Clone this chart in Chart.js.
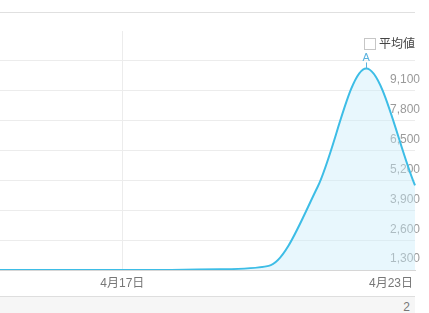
<!DOCTYPE html>
<html><head><meta charset="utf-8">
<script src="https://cdn.jsdelivr.net/npm/chart.js@4/dist/chart.umd.min.js"></script>
<style>
html,body{margin:0;padding:0;background:#fff;}
body{width:429px;height:313px;overflow:hidden;position:relative;font-family:"Liberation Sans","Noto Sans CJK JP",sans-serif;}
#top{position:absolute;left:0;top:12px;width:415px;height:1px;background:#e0e0e0;}
#legend{position:absolute;left:364px;top:35px;height:16px;}
#legend .box{position:absolute;left:0;top:3px;width:10px;height:10px;border:1px solid #c6c6c6;background:#fff;}
#legend .txt{position:absolute;left:15px;top:0;font-size:12px;line-height:16px;color:#444;white-space:nowrap;font-family:"Noto Sans CJK JP",sans-serif;}
#bot{position:absolute;left:0;top:296px;width:415px;height:17px;background:#f6f6f6;border-top:1px solid #dedede;}
#bot span{position:absolute;right:5px;top:3px;font-size:12px;color:#777;}
canvas{position:absolute;left:-24px;top:0;}
</style></head>
<body>
<div id="top"></div>
<canvas id="c" width="449" height="313"></canvas>
<div id="legend"><div class="box"></div><div class="txt">平均値</div></div>
<div id="bot"><span>2</span></div>
<script>
const categories = ['4月14日','4月15日','4月16日','4月17日','4月18日','4月19日','4月20日','4月21日','4月22日','4月23日'];
const sessions   = [0, 0, 0, 0, 5, 35, 180, 3600, 8770, 3680];
const yTickValues = [1300, 2600, 3900, 5200, 6500, 7800, 9100];
const shownXLabels = ['4月17日', '4月23日'];
const annotationLabel = 'A';
const annotationIndex = 8;

const xLabelPlugin = {
  id: 'xLabels',
  afterDraw(chart) {
    const ctx = chart.ctx, xs = chart.scales.x, area = chart.chartArea;
    ctx.save();
    ctx.font = '12px "Liberation Sans","Noto Sans CJK JP",sans-serif';
    ctx.fillStyle = '#777';
    ctx.textBaseline = 'middle';
    shownXLabels.forEach(lbl => {
      const i = categories.indexOf(lbl);
      const px = xs.getPixelForValue(i);
      const w = ctx.measureText(lbl).width;
      if (px + w / 2 > area.right) {
        ctx.textAlign = 'right';
        ctx.fillText(lbl, area.right - 2, area.bottom + 14);
      } else {
        ctx.textAlign = 'center';
        ctx.fillText(lbl, px, area.bottom + 14);
      }
    });
    // annotation
    const pt = chart.getDatasetMeta(0).data[annotationIndex];
    ctx.strokeStyle = '#5ab2de';
    ctx.lineWidth = 1;
    ctx.beginPath();
    ctx.moveTo(Math.round(pt.x) + 0.5, pt.y - 6);
    ctx.lineTo(Math.round(pt.x) + 0.5, pt.y);
    ctx.stroke();
    ctx.font = '11px "Liberation Sans",sans-serif';
    ctx.fillStyle = '#5ab2de';
    ctx.textAlign = 'center';
    ctx.textBaseline = 'bottom';
    ctx.fillText(annotationLabel, pt.x, pt.y - 5);
    ctx.restore();
  }
};

new Chart(document.getElementById('c'), {
  type: 'line',
  data: {
    labels: categories,
    datasets: [{
      data: sessions,
      borderColor: '#3dbde6',
      borderWidth: 2,
      backgroundColor: 'rgba(200,235,250,0.42)',
      fill: 'origin',
      pointRadius: 0,
      cubicInterpolationMode: 'monotone'
    }]
  },
  options: {
    responsive: false,
    animation: false,
    layout: { padding: { top: 31, bottom: 43, left: 0, right: 0 } },
    plugins: { legend: { display: false }, tooltip: { enabled: false } },
    scales: {
      x: {
        offset: false,
        ticks: { display: false, autoSkip: false },
        grid: {
          drawTicks: false,
          color: c => (c.tick && c.index === categories.indexOf(shownXLabels[0])) ? '#ececec' : 'rgba(0,0,0,0)'
        },
        border: { display: true, color: '#d6d6d6' }
      },
      y: {
        position: 'right',
        z: 1,
        min: 0,
        max: 10400,
        afterBuildTicks: s => { s.ticks = yTickValues.map(v => ({ value: v })); },
        ticks: {
          mirror: true,
          padding: 5,
          labelOffset: 19,
          color: '#9a9a9a',
          font: { family: '"Liberation Sans",sans-serif', size: 12 },
          callback: v => v.toLocaleString('en-US')
        },
        grid: { drawTicks: false, color: '#ececec' },
        border: { display: false }
      }
    }
  },
  plugins: [xLabelPlugin]
});
</script>
</body></html>
